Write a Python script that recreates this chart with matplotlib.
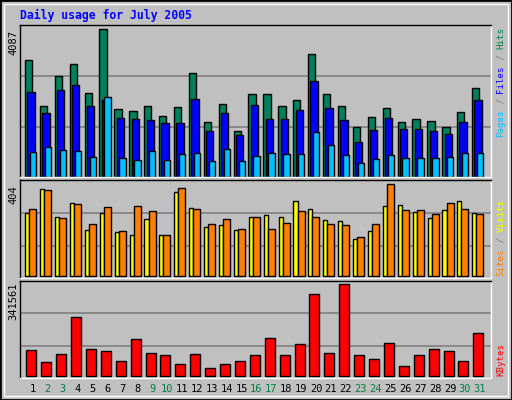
import matplotlib
matplotlib.use("Agg")
import matplotlib.pyplot as plt
import matplotlib.patches as patches
import numpy as np

days = np.arange(1, 32)
weekend_days = [2, 3, 9, 10, 16, 17, 23, 24, 30, 31]

hits = [3229, 1974, 2783, 3112, 2321, 4087, 1864, 1808, 1974, 1673, 1919, 2876, 1516, 2029, 1267,
        2284, 2284, 1974, 2136, 3395, 2284, 1947, 1377, 1651, 1892, 1516, 1599, 1544, 1377, 1785, 2469]
files = [2358, 1753, 2413, 2552, 1947, 2114, 1627, 1599, 1571, 1488, 1488, 2145, 1257, 1753, 1147,
         1997, 1599, 1599, 1849, 2654, 1892, 1571, 952, 1285, 1627, 1322, 1322, 1267, 1183, 1516, 2114]
pages = [675, 814, 731, 703, 536, 2197, 508, 453, 703, 453, 619, 647, 425, 758, 425,
         564, 647, 619, 619, 1229, 869, 592, 370, 481, 592, 508, 508, 508, 536, 647, 647]

sites = [277, 383, 259, 321, 202, 277, 193, 180, 252, 180, 369, 299, 215, 224, 202,
         259, 268, 259, 329, 295, 246, 242, 163, 198, 307, 312, 281, 255, 290, 329, 277]
visits = [295, 378, 255, 316, 228, 303, 198, 307, 287, 180, 386, 295, 228, 252, 206,
          259, 206, 233, 287, 259, 228, 224, 171, 228, 404, 290, 290, 272, 321, 295, 272]

kbytes = [94738, 49860, 79778, 218141, 99725, 92246, 53600, 135872, 83517, 76038, 42381,
          79778, 29915, 44874, 56093, 76038, 139611, 76038, 119670, 304166, 83517, 341561,
          76038, 61079, 123409, 37395, 76038, 98478, 92246, 56093, 159556]

W, H = 512, 400
fig = plt.figure(figsize=(W / 100, H / 100), dpi=100)
fig.patch.set_facecolor("#C0C0C0")

mono = "DejaVu Sans Mono"

# outer black frame and white bevel
fig.add_artist(patches.Rectangle((0, 0), 1, 1, transform=fig.transFigure,
                                 fill=False, edgecolor="black", lw=2))
fig.add_artist(patches.Rectangle((4 / W, 4 / H), 1 - 8 / W, 1 - 8 / H, transform=fig.transFigure,
                                 fill=False, edgecolor="white", lw=1))


def make_axes(top_px, bot_px, base_px, max_px, vmax):
    ax = fig.add_axes([20 / W, 1 - bot_px / H, 471 / W, (bot_px - top_px) / H])
    ax.set_facecolor("#C0C0C0")
    scale = vmax / (base_px - max_px)
    ax.set_ylim(-(bot_px - base_px) * scale, (base_px - top_px) * scale)
    ax.set_xlim(0.13, 31.74)
    ax.set_xticks([])
    ax.set_yticks([])
    for s in ax.spines.values():
        s.set_color("black")
        s.set_linewidth(1)
    ax.spines["right"].set_color("white")
    ax.spines["bottom"].set_color("white")
    return ax, scale


def grid(ax, scale, base_px, ys):
    for y in ys:
        ax.axhline((base_px - y) * scale, color="#808080", lw=1.2, zorder=0)


edge = dict(edgecolor="black", linewidth=1, zorder=2)

# top panel: hits / files / pages
ax1, s1 = make_axes(25, 177, 176.7, 29.3, max(hits))
grid(ax1, s1, 176.7, [76, 127])
ax1.bar(days - 0.29, hits, width=0.49, color="#00805C", **edge)
ax1.bar(days - 0.13, files, width=0.49, color="#0000FF", **edge)
ax1.bar(days + 0.01, pages, width=0.42, color="#00C0FF", **edge)

# middle panel: sites / visits
ax2, s2 = make_axes(180, 278, 276.3, 184.3, max(visits))
grid(ax2, s2, 276.3, [213.3, 246.3])
ax2.bar(days - 0.38, sites, width=0.27, color="#FFFF00", **edge)
ax2.bar(days - 0.01, visits, width=0.47, color="#FF8000", **edge)

# bottom panel: kbytes
ax3, s3 = make_axes(281, 378, 375.7, 284.3, max(kbytes))
grid(ax3, s3, 375.7, [313.3, 346.3])
ax3.bar(days - 0.11, kbytes, width=0.67, color="#FF0000", **edge)

# max labels on the left
for label, top_px in [(str(max(hits)), 30), (str(max(visits)), 185), (str(max(kbytes)), 283)]:
    fig.text(13 / W, 1 - top_px / H, label, rotation=90, ha="center", va="top",
             family=mono, fontsize=7.5, color="black")

# title
fig.text(20 / W, 1 - 15 / H, "Daily usage for July 2005", ha="left", va="center",
         family=mono, fontsize=8.3, fontweight="bold", color="#0000FF")

# day labels
for d in days:
    x = ax3.transData.transform((d, 0))[0] / (W)
    fig.text(x, 1 - 389 / H, str(d), ha="center", va="center", family=mono, fontsize=7.5,
             color="#008040" if d in weekend_days else "black")


def right_label(parts, bottom_px):
    # parts read bottom-to-top; monospace advance = 0.602 em
    fs = 6.6
    char_px = fs * 100 / 72 * 0.602
    y = bottom_px
    for text, color in parts:
        fig.text(501 / W, 1 - y / H, text, rotation=90, ha="center", va="bottom",
                 family=mono, fontsize=fs, color=color)
        y -= char_px * len(text)


right_label([("Pages", "#00C0FF"), (" / ", "#808080"), ("Files", "#0000FF"),
             (" / ", "#808080"), ("Hits", "#008040")], 137)
right_label([("Sites", "#FF8000"), (" / ", "#808080"), ("Visits", "#FFFF00")], 276)
right_label([("KBytes", "#FF0000")], 376)

fig.savefig("out.png", dpi=100, facecolor=fig.get_facecolor())
